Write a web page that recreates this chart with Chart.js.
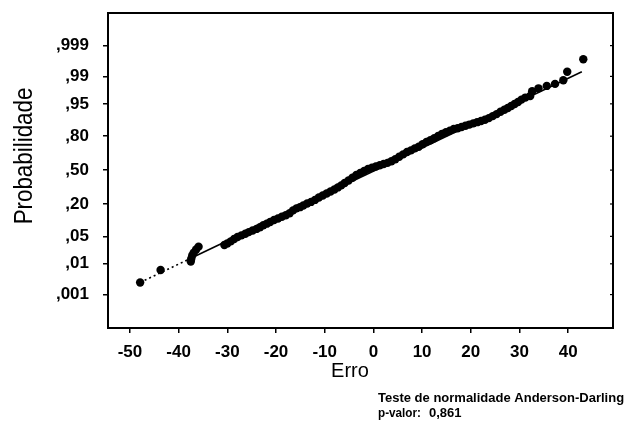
<!DOCTYPE html>
<html>
<head>
<meta charset="utf-8">
<script src="https://cdn.jsdelivr.net/npm/chart.js@4.4.0/dist/chart.umd.min.js"></script>
<style>
  html, body { margin: 0; padding: 0; background: #fff; }
  #wrap { width: 628px; height: 423px; position: relative; }
</style>
</head>
<body>
<div id="wrap"><canvas id="c"></canvas></div>
<script>
// ---- Data (error vs. normal score) ----
const errValues = [
  -47.9, -43.7, -37.5, -37.4, -37.2, -36.9, -36.4, -35.9,
  -30.6, -30.0, -29.3, -28.6, -27.9, -27.1, -26.3, -25.6, -24.8, -24.0, -23.3, -22.6,
  -21.9, -21.2, -20.4, -19.6, -18.8, -18.0, -17.2, -16.5, -15.8, -15.1, -14.4, -13.6,
  -12.8, -12.0, -11.2, -10.4, -9.6, -8.8, -8.0, -7.3, -6.6, -5.9, -5.1, -4.3, -3.5,
  -2.7, -1.9, -1.1, -0.3, 0.5, 1.3, 2.1, 2.9, 3.7, 4.5, 5.3, 6.1, 6.9, 7.7, 8.5, 9.3,
  10.1, 10.9, 11.7, 12.5, 13.3, 14.1, 14.9, 15.7, 16.5, 17.3, 18.1, 18.9, 19.7, 20.5,
  21.3, 22.1, 22.9, 23.7, 24.5, 25.3, 26.1, 26.9, 27.6, 28.3, 29.0, 29.7, 30.4, 31.2,
  32.2, 32.6, 33.9, 35.6, 37.3, 39.0, 39.8, 43.1
];
const normalScores = [
  -2.79, -2.48, -2.27, -2.20, -2.12, -2.05, -1.97, -1.90,
  -1.86, -1.82, -1.77, -1.71, -1.66, -1.62, -1.58, -1.54, -1.50, -1.46, -1.42, -1.37,
  -1.33, -1.29, -1.24, -1.20, -1.16, -1.12, -1.07, -1.00, -0.95, -0.92, -0.88, -0.83,
  -0.79, -0.74, -0.68, -0.63, -0.58, -0.53, -0.48, -0.43, -0.38, -0.32, -0.26, -0.19, -0.12,
  -0.07, -0.02, 0.03, 0.06, 0.09, 0.12, 0.15, 0.18, 0.22, 0.27, 0.33, 0.39, 0.45, 0.49, 0.54,
  0.58, 0.64, 0.70, 0.74, 0.79, 0.85, 0.90, 0.94, 0.98, 1.02, 1.04, 1.07, 1.10, 1.13,
  1.16, 1.19, 1.22, 1.25, 1.29, 1.34, 1.39, 1.45, 1.50, 1.54, 1.59, 1.64, 1.69, 1.75, 1.80,
  1.84, 1.96, 2.03, 2.09, 2.14, 2.23, 2.44, 2.75
];
// fitted line: dotted part [0..1], solid part [1..2]
const fitErr = [-47.9, -37.5, 42.8];
const fitScore = [-2.79, -2.19, 2.44];

const xTickValues = [-50, -40, -30, -20, -10, 0, 10, 20, 30, 40];
const probTicks = [0.001, 0.01, 0.05, 0.20, 0.50, 0.80, 0.95, 0.99, 0.999];
const probLabels = [',001', ',01', ',05', ',20', ',50', ',80', ',95', ',99', ',999'];

const xTitle = 'Erro';
const yTitle = 'Probabilidade';
const noteLine1 = 'Teste de normalidade Anderson-Darling';
const noteLabel = 'p-valor:';
const noteValue = '0,861';

// inverse standard normal CDF (probability scale), Acklam's approximation
function probit(p) {
  const a = [-3.969683028665376e+01, 2.209460984245205e+02, -2.759285104469687e+02, 1.383577518672690e+02, -3.066479806614716e+01, 2.506628277459239e+00];
  const b = [-5.447609879822406e+01, 1.615858368580409e+02, -1.556989798598866e+02, 6.680131188771972e+01, -1.328068155288572e+01];
  const c = [-7.784894002430293e-03, -3.223964580411365e-01, -2.400758277161838e+00, -2.549732539343734e+00, 4.374664141464968e+00, 2.938163982698783e+00];
  const d = [7.784695709041462e-03, 3.224671290700398e-01, 2.445134137142996e+00, 3.754408661907416e+00];
  const pl = 0.02425, ph = 1 - pl;
  let q, r;
  if (p < pl) { q = Math.sqrt(-2 * Math.log(p));
    return (((((c[0]*q+c[1])*q+c[2])*q+c[3])*q+c[4])*q+c[5]) / ((((d[0]*q+d[1])*q+d[2])*q+d[3])*q+1); }
  if (p <= ph) { q = p - 0.5; r = q*q;
    return (((((a[0]*r+a[1])*r+a[2])*r+a[3])*r+a[4])*r+a[5])*q / (((((b[0]*r+b[1])*r+b[2])*r+b[3])*r+b[4])*r+1); }
  q = Math.sqrt(-2 * Math.log(1 - p));
  return -(((((c[0]*q+c[1])*q+c[2])*q+c[3])*q+c[4])*q+c[5]) / ((((d[0]*q+d[1])*q+d[2])*q+d[3])*q+1);
}

const points = errValues.map((x, i) => ({ x: x, y: normalScores[i] }));
const fitDotted = [0, 1].map(i => ({ x: fitErr[i], y: fitScore[i] }));
const fitSolid = [1, 2].map(i => ({ x: fitErr[i], y: fitScore[i] }));

const FONT = '"Liberation Sans", Arial, Helvetica, sans-serif';

const decor = {
  id: 'decor',
  afterDraw(chart) {
    const ctx = chart.ctx, a = chart.chartArea;
    const ys = chart.scales.y;
    ctx.save();
    // frame
    ctx.strokeStyle = '#000';
    ctx.lineWidth = 2;
    ctx.strokeRect(a.left, a.top, a.right - a.left, a.bottom - a.top);
    // small inner ticks on right side
    ctx.lineWidth = 1.2;
    probTicks.forEach(p => {
      const y = ys.getPixelForValue(probit(p));
      ctx.beginPath(); ctx.moveTo(a.right, y); ctx.lineTo(a.right - 3, y); ctx.stroke();
    });
    ctx.fillStyle = '#000';
    // y title
    ctx.save();
    ctx.translate(32, 156);
    ctx.rotate(-Math.PI / 2);
    ctx.scale(0.86, 1);
    ctx.font = '26px ' + FONT;
    ctx.textAlign = 'center';
    ctx.textBaseline = 'alphabetic';
    ctx.fillText(yTitle, 0, 0);
    ctx.restore();
    // x title
    ctx.font = '20px ' + FONT;
    ctx.textAlign = 'center';
    ctx.textBaseline = 'alphabetic';
    ctx.fillText(xTitle, 350, 377);
    // note
    ctx.font = 'bold 13px ' + FONT;
    ctx.textAlign = 'left';
    ctx.fillText(noteLine1, 378, 402);
    ctx.save();
    ctx.translate(378, 417);
    ctx.scale(0.9, 1);
    ctx.fillText(noteLabel, 0, 0);
    ctx.restore();
    ctx.fillText(noteValue, 429, 417);
    ctx.restore();
  }
};

new Chart(document.getElementById('c'), {
  type: 'scatter',
  data: {
    datasets: [
      { type: 'line', data: fitDotted, borderColor: '#000', borderWidth: 1.6, borderDash: [2, 3],
        pointRadius: 0, fill: false, order: 2 },
      { type: 'line', data: fitSolid, borderColor: '#000', borderWidth: 1.6,
        pointRadius: 0, fill: false, order: 2 },
      { data: points, backgroundColor: '#000', borderColor: '#000', borderWidth: 0,
        pointRadius: 4.2, pointHoverRadius: 4.2, order: 1 }
    ]
  },
  options: {
    responsive: true,
    maintainAspectRatio: false,
    animation: false,
    events: [],
    layout: { padding: { top: 13, right: 15, left: 0, bottom: 0 } },
    plugins: { legend: { display: false }, tooltip: { enabled: false } },
    scales: {
      x: {
        type: 'linear', min: -54.5, max: 49.2,
        afterFit(s) { s.height = 95; s.paddingLeft = 0; s.paddingRight = 0; },
        afterBuildTicks(s) { s.ticks = xTickValues.map(v => ({ value: v })); },
        border: { display: true, color: '#000', width: 2 },
        grid: { display: true, drawOnChartArea: false, drawTicks: true, tickLength: 5, color: '#000', lineWidth: 1.5 },
        ticks: { color: '#000', padding: 9, maxRotation: 0, font: { family: FONT, size: 17, weight: 'bold' },
                 callback: v => String(v) }
      },
      y: {
        type: 'linear', min: -3.92, max: 3.90,
        afterFit(s) { s.width = 108; s.paddingTop = 0; s.paddingBottom = 0; },
        afterBuildTicks(s) { s.ticks = probTicks.map(p => ({ value: probit(p) })); },
        border: { display: true, color: '#000', width: 2 },
        grid: { display: true, drawOnChartArea: false, drawTicks: true, tickLength: 5, color: '#000', lineWidth: 1.5 },
        ticks: { color: '#000', padding: 14, font: { family: FONT, size: 17, weight: 'bold' },
                 callback: (v, i) => probLabels[i] }
      }
    }
  },
  plugins: [decor]
});
</script>
</body>
</html>
